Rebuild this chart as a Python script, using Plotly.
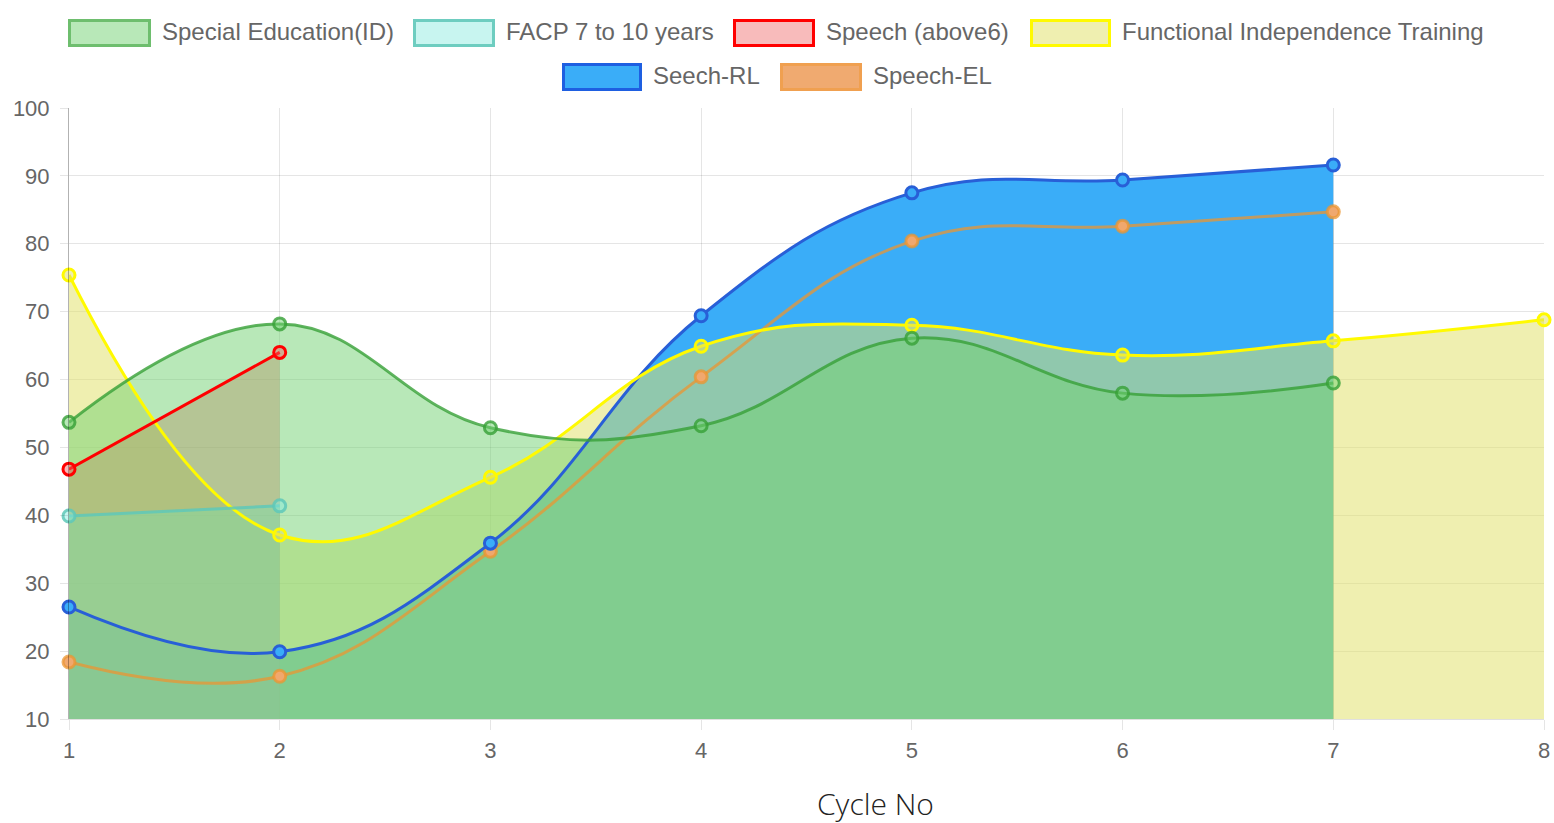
import plotly.graph_objects as go

# ---------------- data ----------------
cycles = [1, 2, 3, 4, 5, 6, 7, 8]
x_ticks = [1, 2, 3, 4, 5, 6, 7, 8]
y_ticks = [10, 20, 30, 40, 50, 60, 70, 80, 90, 100]

special_education = [53.7, 68.2, 52.9, 53.2, 66.1, 58.0, 59.5]
facp_7_10 = [39.9, 41.4]
speech_above6 = [46.8, 64.0]
functional_independence = [75.4, 37.1, 45.6, 64.9, 68.0, 63.6, 65.7, 68.8]
speech_rl = [26.5, 19.9, 35.9, 69.4, 87.5, 89.4, 91.6]
speech_el = [18.4, 16.3, 34.7, 60.4, 80.4, 82.6, 84.7]

names = ["Special Education(ID)", "FACP 7 to 10 years", "Speech (above6)",
         "Functional Independence Training", "Seech-RL", "Speech-EL"]
values = [special_education, facp_7_10, speech_above6,
          functional_independence, speech_rl, speech_el]

# ---------------- styles ----------------
line_colors = ["rgba(55,160,55,0.8)", "rgba(95,200,185,0.85)", "rgb(255,0,0)",
               "rgb(255,250,0)", "rgb(40,95,215)", "rgba(235,150,50,0.75)"]
fill_colors = ["rgba(113,209,113,0.5)", "rgba(130,235,225,0.45)", "rgba(240,100,100,0.45)",
               "rgba(224,224,103,0.52)", "rgb(58,173,248)", "rgb(240,168,110)"]
legend_fill = ["rgb(184,232,184)", "rgb(200,245,240)", "rgb(248,187,187)",
               "rgb(239,239,176)", "rgb(58,173,248)", "rgb(240,170,112)"]
legend_border = ["rgb(110,190,110)", "rgb(110,205,192)", "rgb(255,0,0)",
                 "rgb(255,250,0)", "rgb(30,95,225)", "rgb(240,160,80)"]
spline_smooth = [1.2, 1.2, 1.2, 1.2, 1.2, 1.2]

# plot-area pixel frame
W, H = 1554, 823
L, R, T, B = 69, 10, 108, 104
PW, PH = W - L - R, H - T - B


def px(xp):
    return (xp - L) / PW


def py(yp):
    return (H - B - yp) / PH


fig = go.Figure()

# draw in reverse order (like Chart.js): all fills first, then lines
order = list(range(len(names)))[::-1]
for i in order:
    xs = cycles[:len(values[i])]
    fig.add_trace(go.Scatter(
        x=xs, y=values[i], mode="none", fill="tozeroy",
        fillcolor=fill_colors[i],
        line=dict(shape="spline", smoothing=spline_smooth[i], width=0),
        showlegend=False, hoverinfo="skip"))
for i in order:
    xs = cycles[:len(values[i])]
    fig.add_trace(go.Scatter(
        x=xs, y=values[i], mode="lines+markers", name=names[i],
        line=dict(shape="spline", smoothing=spline_smooth[i], width=3,
                  color=line_colors[i]),
        marker=dict(size=12, color=fill_colors[i],
                    line=dict(width=3, color=line_colors[i])),
        showlegend=False, cliponaxis=False))

# ---------------- manual legend (Chart.js style boxes) ----------------
legend_pos = [  # (box left px, box right px, row center y px)
    (68, 151, 33), (413, 495, 33), (733, 815, 33), (1030, 1111, 33),
    (562, 642, 77), (780, 862, 77),
]
shapes = []
annotations = []
for i, (x0, x1, yc) in enumerate(legend_pos):
    shapes.append(dict(type="rect", xref="paper", yref="paper",
                       x0=px(x0 + 1.5), x1=px(x1 - 1.5),
                       y0=py(yc - 12.5), y1=py(yc + 12.5),
                       fillcolor=legend_fill[i],
                       line=dict(color=legend_border[i], width=3)))
    annotations.append(dict(xref="paper", yref="paper", x=px(x1 + 9), y=py(yc - 1),
                            xanchor="left", yanchor="middle", showarrow=False,
                            text=names[i],
                            font=dict(family="Liberation Sans, Arial", size=24,
                                      color="#666666")))

annotations.append(dict(xref="paper", yref="paper", x=px(875), y=py(803),
                        xanchor="center", yanchor="middle", showarrow=False,
                        text="Cycle No",
                        font=dict(family="Open Sans", size=30, color="#222222",
                                  weight=300)))

fig.update_layout(
    width=W, height=H,
    margin=dict(l=L, r=R, t=T, b=B, pad=0, autoexpand=False),
    paper_bgcolor="white", plot_bgcolor="white",
    shapes=shapes, annotations=annotations,
    showlegend=False,
    xaxis=dict(range=[1, 8], tickvals=x_ticks, ticktext=[str(v) for v in x_ticks],
               automargin=False,
               showgrid=True, gridcolor="rgba(0,0,0,0.1)", gridwidth=1,
               zeroline=False, showline=True, linecolor="rgba(0,0,0,0.12)",
               ticks="outside", ticklen=10, tickcolor="rgba(0,0,0,0.1)",
               ticklabelstandoff=2,
               tickfont=dict(family="Liberation Sans, Arial", size=22, color="#666666")),
    yaxis=dict(range=[10, 100], tickvals=y_ticks, automargin=False,
               showgrid=True, gridcolor="rgba(0,0,0,0.1)", gridwidth=1,
               zeroline=False, showline=True, linecolor="rgba(0,0,0,0.3)",
               ticks="outside", ticklen=8, tickcolor="rgba(0,0,0,0.1)",
               ticklabelstandoff=6,
               tickfont=dict(family="Liberation Sans, Arial", size=22, color="#666666")),
)

fig.write_html("out.html", config={"displayModeBar": False},
               post_script="document.body.style.margin='0';document.body.style.overflow='hidden';")
